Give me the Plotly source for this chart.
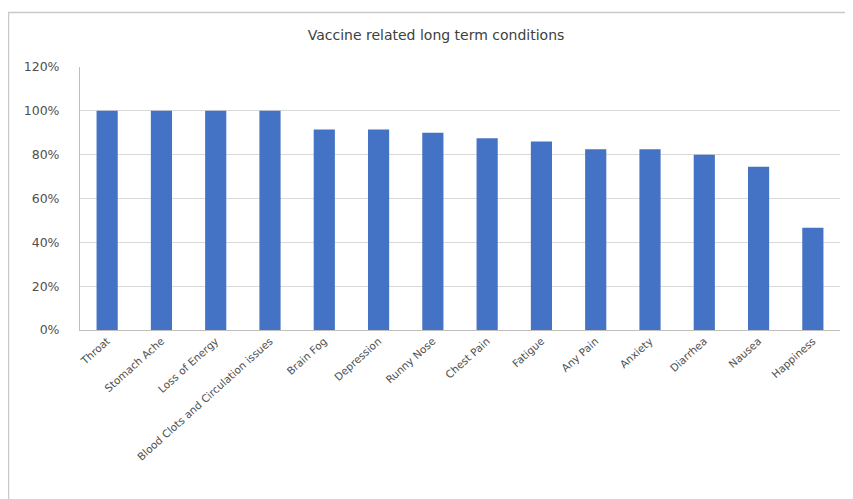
import plotly.graph_objects as go

categories = ["Throat", "Stomach Ache", "Loss of Energy", "Blood Clots and Circulation issues",
              "Brain Fog", "Depression", "Runny Nose", "Chest Pain", "Fatigue", "Any Pain",
              "Anxiety", "Diarrhea", "Nausea", "Happiness"]
values = [1.00, 1.00, 1.00, 1.00, 0.915, 0.915, 0.90, 0.875, 0.86, 0.825, 0.825, 0.80, 0.745, 0.467]
title_text = "Vaccine related long term conditions"

# page body has an 8px margin; work in figure coordinates = page - 8
OFF = 8
W, H = 845, 491
L, T = 80 - OFF, 67 - OFF
R = W - (840 - OFF)
B = H - (330 - OFF)
pw, ph = W - L - R, H - T - B

fig = go.Figure(go.Bar(x=categories, y=values, marker_color="#4472C4",
                       marker_line_width=0, hoverinfo="x+y"))

def px_x(p):
    return (p - OFF - L) / pw

def px_y(p):
    return (H - B - (p - OFF)) / ph

fig.add_shape(type="rect", xref="paper", yref="paper",
              x0=px_x(8.5), x1=px_x(851), y0=px_y(530), y1=px_y(12.5),
              line=dict(color="#c9c9c9", width=1.5), fillcolor="rgba(0,0,0,0)")

fig.update_layout(
    width=W, height=H,
    margin=dict(l=L, r=R, t=T, b=B, autoexpand=False),
    paper_bgcolor="white", plot_bgcolor="white",
    bargap=0.61,
    showlegend=False,
    title=dict(text=title_text, xref="container", x=(436 - OFF) / W, xanchor="center",
               yref="container", y=1 - (35 - OFF) / H, yanchor="middle",
               font=dict(family="DejaVu Sans, sans-serif", size=14, color="#404040")),
    font=dict(family="DejaVu Sans, sans-serif", size=11, color="#505050"),
)
fig.update_xaxes(tickangle=-42, showline=True, linecolor="#bfbfbf", linewidth=1,
                 ticks="", showgrid=False, tickfont=dict(size=10.5, color="#505050"))
fig.update_yaxes(range=[0, 1.2], dtick=0.2, tickformat=".0%", showgrid=True,
                 gridcolor="#d9d9d9", gridwidth=1, showline=True, linecolor="#bfbfbf",
                 linewidth=1, zeroline=False, ticks="", ticklabelstandoff=17,
                 tickfont=dict(size=12.5, color="#505050"))

fig.write_html("out.html")
